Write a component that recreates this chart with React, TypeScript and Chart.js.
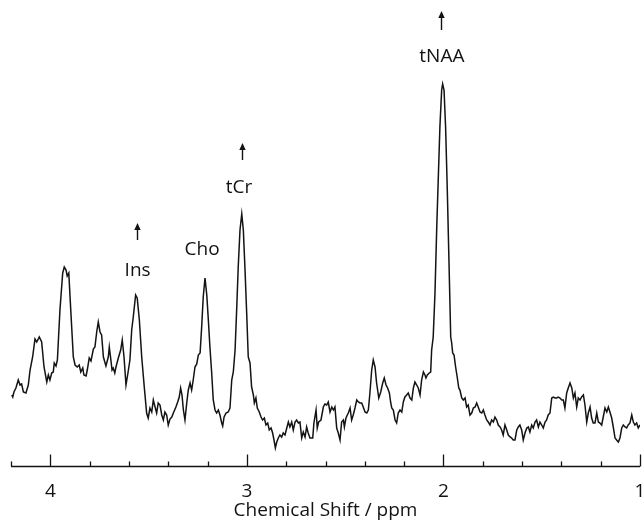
import React, { useEffect, useRef } from "react";
import { Chart, registerables } from "chart.js";

Chart.register(...registerables);

// Chemical shift (ppm) of each sample point
const ppm = [
  4.196, 4.191, 4.185, 4.175, 4.163, 4.154, 4.146, 4.137, 4.124, 4.112, 4.103, 4.09, 4.078, 4.069, 4.056, 4.044,
  4.032, 4.018, 4.01, 4.002, 3.993, 3.985, 3.98, 3.971, 3.964, 3.951, 3.937, 3.929, 3.92, 3.914, 3.906, 3.896,
  3.883, 3.874, 3.863, 3.853, 3.845, 3.835, 3.829, 3.818, 3.812, 3.802, 3.793, 3.781, 3.773, 3.764, 3.756, 3.747,
  3.739, 3.73, 3.717, 3.705, 3.7, 3.693, 3.686, 3.68, 3.672, 3.666, 3.654, 3.642, 3.634, 3.625, 3.615, 3.605,
  3.595, 3.586, 3.578, 3.566, 3.558, 3.547, 3.535, 3.522, 3.51, 3.502, 3.493, 3.484, 3.476, 3.467, 3.459, 3.451,
  3.442, 3.433, 3.425, 3.417, 3.408, 3.4, 3.391, 3.382, 3.374, 3.361, 3.352, 3.344, 3.337, 3.33, 3.323, 3.315,
  3.306, 3.298, 3.289, 3.281, 3.273, 3.264, 3.255, 3.247, 3.238, 3.23, 3.222, 3.213, 3.204, 3.196, 3.188, 3.179,
  3.171, 3.162, 3.154, 3.145, 3.137, 3.128, 3.123, 3.116, 3.106, 3.095, 3.086, 3.077, 3.069, 3.06, 3.052, 3.044,
  3.035, 3.026, 3.018, 3.01, 3.001, 2.993, 2.984, 2.976, 2.967, 2.962, 2.954, 2.947, 2.937, 2.928, 2.92, 2.911,
  2.903, 2.894, 2.886, 2.877, 2.869, 2.862, 2.855, 2.848, 2.84, 2.832, 2.823, 2.815, 2.806, 2.797, 2.789, 2.781,
  2.772, 2.764, 2.755, 2.747, 2.738, 2.73, 2.721, 2.713, 2.704, 2.696, 2.688, 2.679, 2.665, 2.659, 2.648, 2.642,
  2.635, 2.623, 2.611, 2.603, 2.594, 2.586, 2.577, 2.568, 2.56, 2.552, 2.543, 2.535, 2.526, 2.518, 2.509, 2.504,
  2.496, 2.484, 2.475, 2.467, 2.459, 2.45, 2.441, 2.433, 2.424, 2.416, 2.408, 2.399, 2.39, 2.382, 2.374, 2.365,
  2.357, 2.348, 2.34, 2.329, 2.319, 2.309, 2.301, 2.292, 2.284, 2.275, 2.268, 2.263, 2.255, 2.246, 2.238, 2.23,
  2.221, 2.212, 2.204, 2.196, 2.187, 2.179, 2.17, 2.161, 2.153, 2.145, 2.136, 2.128, 2.119, 2.111, 2.102, 2.094,
  2.089, 2.082, 2.072, 2.065, 2.06, 2.052, 2.043, 2.034, 2.026, 2.018, 2.009, 2.004, 1.997, 1.989, 1.98, 1.972,
  1.963, 1.958, 1.953, 1.946, 1.938, 1.93, 1.922, 1.916, 1.907, 1.899, 1.89, 1.882, 1.874, 1.865, 1.856, 1.848,
  1.839, 1.831, 1.823, 1.814, 1.805, 1.797, 1.789, 1.78, 1.772, 1.763, 1.755, 1.746, 1.738, 1.729, 1.721, 1.712,
  1.704, 1.696, 1.687, 1.678, 1.67, 1.661, 1.653, 1.645, 1.636, 1.627, 1.619, 1.611, 1.602, 1.594, 1.585, 1.576,
  1.568, 1.56, 1.551, 1.543, 1.534, 1.526, 1.517, 1.509, 1.5, 1.492, 1.483, 1.475, 1.467, 1.458, 1.449, 1.441,
  1.432, 1.424, 1.416, 1.407, 1.398, 1.39, 1.382, 1.373, 1.365, 1.356, 1.347, 1.339, 1.331, 1.322, 1.314, 1.305,
  1.297, 1.288, 1.28, 1.271, 1.263, 1.254, 1.246, 1.238, 1.229, 1.22, 1.212, 1.204, 1.195, 1.187, 1.178, 1.169,
  1.161, 1.153, 1.144, 1.136, 1.127, 1.119, 1.11, 1.102, 1.093, 1.085, 1.076, 1.068, 1.06, 1.051, 1.042, 1.034,
  1.026, 1.017, 1.009, 1.0,
];

// Signal intensity (arbitrary units) at each point
const intensity = [
  75, 73, 78, 82, 90, 85, 86, 78, 77, 85, 100, 113, 131, 128, 133, 128,
  103, 88, 95, 90, 97, 98, 107, 104, 110, 160, 197, 203, 200, 194, 197, 160,
  113, 105, 103, 105, 98, 102, 95, 94, 100, 112, 109, 121, 123, 138, 148, 138,
  135, 113, 104, 113, 123, 112, 100, 102, 97, 103, 112, 120, 130, 113, 85, 97,
  110, 140, 153, 175, 172, 150, 113, 83, 57, 52, 62, 58, 70, 63, 57, 67,
  65, 55, 50, 58, 55, 45, 51, 53, 57, 63, 68, 73, 82, 75, 60, 50,
  67, 80, 87, 80, 90, 103, 106, 115, 117, 143, 173, 192, 175, 150, 123, 97,
  70, 60, 57, 60, 55, 47, 44, 53, 57, 58, 62, 90, 98, 120, 160, 203,
  240, 256, 240, 203, 157, 113, 107, 83, 75, 67, 72, 62, 58, 53, 50, 52,
  45, 47, 40, 42, 37, 30, 22, 28, 32, 35, 33, 37, 35, 42, 48, 43,
  48, 40, 48, 50, 47, 48, 32, 38, 33, 43, 37, 32, 32, 47, 60, 42,
  48, 50, 63, 66, 65, 68, 58, 63, 60, 63, 42, 37, 30, 48, 50, 43,
  52, 57, 62, 50, 55, 62, 70, 68, 67, 67, 63, 58, 57, 60, 77, 100,
  110, 103, 87, 72, 78, 87, 92, 85, 82, 77, 67, 62, 60, 50, 47, 57,
  60, 58, 68, 73, 75, 77, 72, 70, 82, 88, 85, 82, 75, 90, 98, 95,
  92, 95, 97, 98, 120, 133, 177, 243, 293, 343, 380, 386, 380, 343, 277, 210,
  133, 127, 117, 115, 103, 93, 82, 80, 72, 70, 72, 63, 65, 55, 57, 62,
  63, 67, 63, 58, 57, 60, 55, 50, 48, 45, 50, 48, 53, 50, 45, 43,
  40, 35, 45, 40, 35, 33, 32, 30, 30, 40, 43, 45, 40, 30, 37, 42,
  43, 38, 45, 42, 48, 50, 43, 48, 45, 42, 48, 50, 55, 57, 72, 73,
  72, 72, 73, 72, 70, 70, 62, 77, 82, 87, 82, 72, 77, 63, 72, 70,
  73, 75, 65, 48, 57, 63, 52, 47, 47, 57, 48, 47, 45, 53, 62, 58,
  63, 58, 52, 43, 32, 30, 28, 32, 42, 45, 43, 42, 45, 47, 55, 48,
  45, 47, 42, 45,
];

// Axis tick values
const majorTicks = [4, 3, 2, 1];
const minorTicks = [4.2, 3.8, 3.6, 3.4, 3.2, 2.8, 2.6, 2.4, 2.2, 1.8, 1.6, 1.4, 1.2];

// Peak annotations
const peakNames = ["tNAA", "tCr", "Cho", "Ins"];
const peakLabelPpm = [2.008, 3.04, 3.228, 3.556];
const peakLabelLevel = [413, 282, 220, 199];
const arrowPpm = [2.012, 3.027, null, 3.559];
const arrowBase = [440, 310, null, 230];
const arrowTip = [459, 327, null, 247];

const INK = "#141212";
const FONT = '"Open Sans", sans-serif';

const annotationPlugin = {
  id: "spectrumDecor",
  afterDatasetsDraw(chart: any) {
    const { ctx, chartArea, scales } = chart;
    const xs = scales.x;
    const ys = scales.y;
    ctx.save();
    ctx.strokeStyle = INK;
    ctx.fillStyle = INK;
    ctx.lineWidth = 1.3;
    // axis line
    const yb = Math.round(chartArea.bottom) + 0.5;
    ctx.beginPath();
    ctx.moveTo(chartArea.left, yb);
    ctx.lineTo(chartArea.right, yb);
    ctx.stroke();
    // ticks pointing up
    const tick = (v: number, len: number) => {
      const px = Math.round(xs.getPixelForValue(v)) + 0.5;
      ctx.beginPath();
      ctx.moveTo(px, yb);
      ctx.lineTo(px, yb - len);
      ctx.stroke();
    };
    majorTicks.forEach((v) => tick(v, 12));
    minorTicks.forEach((v) => tick(v, 5));
    // labels & arrows
    ctx.font = `19px ${FONT}`;
    ctx.textAlign = "center";
    ctx.textBaseline = "middle";
    peakNames.forEach((name, i) => {
      ctx.fillText(name, xs.getPixelForValue(peakLabelPpm[i]), ys.getPixelForValue(peakLabelLevel[i]));
      const ap = arrowPpm[i];
      if (ap !== null) {
        const ax = Math.round(xs.getPixelForValue(ap)) + 0.5;
        const yTop = ys.getPixelForValue(arrowTip[i] as number);
        const yBot = ys.getPixelForValue(arrowBase[i] as number);
        ctx.lineWidth = 1.4;
        ctx.beginPath();
        ctx.moveTo(ax, yBot);
        ctx.lineTo(ax, yTop + 5);
        ctx.stroke();
        ctx.beginPath();
        ctx.moveTo(ax, yTop);
        ctx.lineTo(ax - 3.2, yTop + 7);
        ctx.lineTo(ax + 3.2, yTop + 7);
        ctx.closePath();
        ctx.fill();
      }
    });
    ctx.restore();
  },
};

export default function App() {
  const canvasRef = useRef<HTMLCanvasElement | null>(null);

  useEffect(() => {
    const canvas = canvasRef.current;
    if (!canvas) return;
    const points = ppm.map((p, i) => ({ x: p, y: intensity[i] }));
    const chart = new Chart(canvas, {
      type: "line",
      data: {
        datasets: [
          {
            data: points,
            borderColor: INK,
            borderWidth: 1.5,
            pointRadius: 0,
            tension: 0,
            fill: false,
          },
        ],
      },
      options: {
        animation: false,
        responsive: false,
        maintainAspectRatio: false,
        layout: { padding: { top: 10, left: 11, right: 2, bottom: 0 } },
        plugins: { legend: { display: false }, tooltip: { enabled: false } },
        scales: {
          x: {
            type: "linear",
            reverse: true,
            min: 1,
            max: 4.2,
            grid: { display: false, drawTicks: false },
            border: { display: false },
            afterBuildTicks: (axis: any) => {
              axis.ticks = majorTicks.map((v) => ({ value: v }));
            },
            afterFit: (axis: any) => {
              axis.paddingLeft = 0;
              axis.paddingRight = 0;
              axis.height = 56;
            },
            ticks: {
              color: INK,
              font: { family: FONT, size: 19 },
              padding: 14,
              maxRotation: 0,
              autoSkip: false,
            },
            title: {
              display: true,
              text: "Chemical Shift / ppm",
              color: INK,
              font: { family: FONT, size: 19 },
              padding: { top: 0, bottom: 0 },
            },
          },
          y: { display: false, min: 4, max: 460 },
        },
      },
      plugins: [annotationPlugin],
    });
    return () => chart.destroy();
  }, []);

  return (
    <div style={{ position: "fixed", left: 0, top: 0, width: 642, height: 522, background: "#fff" }}>
      <canvas ref={canvasRef} width={642} height={522} style={{ width: 642, height: 522 }} />
    </div>
  );
}
